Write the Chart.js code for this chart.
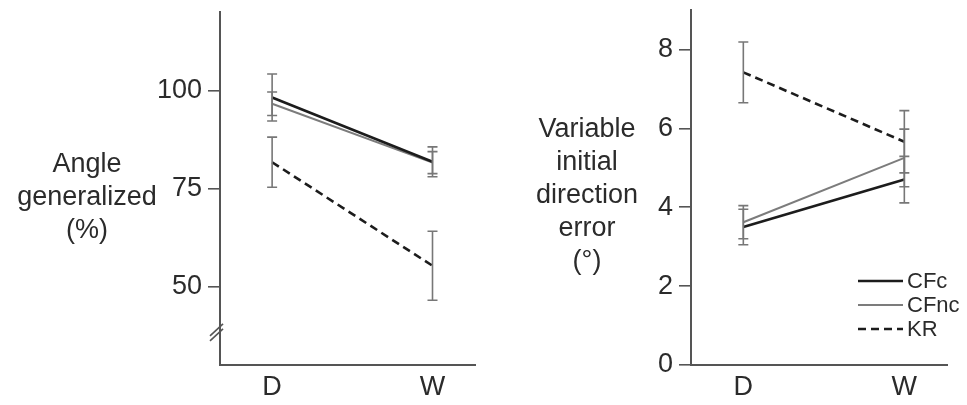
<!DOCTYPE html>
<html>
<head>
<meta charset="utf-8">
<script src="https://cdn.jsdelivr.net/npm/chart.js@4"></script>
<style>
  html, body { margin: 0; padding: 0; background: #fff; }
  #wrap { position: relative; width: 967px; height: 405px; }
  .box { position: absolute; top: 0; height: 405px; }
</style>
</head>
<body>
<div id="wrap">
  <div class="box" style="left:0;width:480px"><canvas id="chartAngle"></canvas></div>
  <div class="box" style="left:480px;width:487px"><canvas id="chartError"></canvas></div>
</div>
<script>
// categories
const conditions = ['D', 'W'];

// left panel: angle generalized (%)
const angleCFc = [98.2, 81.8];
const angleCFcErr = [6.0, 3.8];
const angleCFnc = [96.6, 81.6];
const angleCFncErr = [3.0, 2.8];
const angleKR = [81.7, 55.3];
const angleKRErr = [6.4, 8.8];
const angleTicks = [50, 75, 100];

// right panel: variable initial direction error (deg)
const dirCFc = [3.5, 4.7];
const dirCFcErr = [0.45, 0.59];
const dirCFnc = [3.62, 5.25];
const dirCFncErr = [0.42, 0.73];
const dirKR = [7.42, 5.66];
const dirKRErr = [0.77, 0.79];
const dirTicks = [0, 2, 4, 6, 8];

const FONT = "'Liberation Sans', Arial, Helvetica, sans-serif";
const TEXT = '#2b2b2b';
const AXIS = '#555';

function pts(vals) {
    return vals.map(function(v, i) { return {x: i, y: v}; });
}

function makeSets(cfc, cfcErr, cfnc, cfncErr, kr, krErr) {
    return [
        { label: 'CFc', data: pts(cfc), errors: cfcErr, borderColor: '#1c1c1c', borderWidth: 2.6, pointRadius: 0 },
        { label: 'CFnc', data: pts(cfnc), errors: cfncErr, borderColor: '#7c7c7c', borderWidth: 2, pointRadius: 0 },
        { label: 'KR', data: pts(kr), errors: krErr, borderColor: '#1c1c1c', borderWidth: 2.6, borderDash: [8, 5], pointRadius: 0 }
    ];
}

// error bars from the dataset errors, drawn through the chart scales
const errorBars = {
    id: 'errorBars',
    afterDatasetsDraw(chart) {
        const c = chart.ctx, xs = chart.scales.x, ys = chart.scales.y;
        c.save();
        c.strokeStyle = '#777';
        c.lineWidth = 1.6;
        chart.data.datasets.forEach(function(ds) {
            ds.data.forEach(function(p, i) {
                const x = xs.getPixelForValue(p.x);
                const top = ys.getPixelForValue(p.y + ds.errors[i]);
                const bot = ys.getPixelForValue(p.y - ds.errors[i]);
                c.beginPath();
                c.moveTo(x, top); c.lineTo(x, bot);
                c.moveTo(x - 5, top); c.lineTo(x + 5, top);
                c.moveTo(x - 5, bot); c.lineTo(x + 5, bot);
                c.stroke();
            });
        });
        c.restore();
    }
};

// horizontal multi-line y axis title
const sideTitle = {
    id: 'sideTitle',
    afterDraw(chart, args, opts) {
        const c = chart.ctx;
        c.save();
        c.font = '27px ' + FONT;
        c.fillStyle = TEXT;
        c.textAlign = 'center';
        c.textBaseline = 'middle';
        opts.lines.forEach(function(t, i) {
            c.fillText(t, opts.x, opts.y + i * opts.step);
        });
        c.restore();
    }
};

// axis break on the left panel
const axisBreak = {
    id: 'axisBreak',
    afterDraw(chart, args, opts) {
        if (!opts.value) return;
        const c = chart.ctx;
        const x = chart.chartArea.left;
        const y = chart.scales.y.getPixelForValue(opts.value);
        c.save();
        c.strokeStyle = AXIS;
        c.lineWidth = 1.6;
        [-2.5, 2.5].forEach(function(off) {
            c.beginPath();
            c.moveTo(x - 10, y + 6 + off);
            c.lineTo(x + 3, y - 6 + off);
            c.stroke();
        });
        c.restore();
    }
};

// legend inside the right panel
const lineLegend = {
    id: 'lineLegend',
    afterDraw(chart, args, opts) {
        if (!opts.show) return;
        const c = chart.ctx;
        c.save();
        c.font = '22px ' + FONT;
        c.textBaseline = 'middle';
        chart.data.datasets.forEach(function(ds, i) {
            const y = opts.y + i * 24;
            c.strokeStyle = ds.borderColor;
            c.lineWidth = ds.borderWidth;
            c.setLineDash(ds.borderDash || []);
            c.beginPath();
            c.moveTo(opts.x, y); c.lineTo(opts.x + 45, y);
            c.stroke();
            c.setLineDash([]);
            c.fillStyle = TEXT;
            c.fillText(ds.label, opts.x + 49, y + 1);
        });
        c.restore();
    }
};

function makeChart(id, sets, yMin, yMax, yTicks, axisWidth, padTop, padRight, plugOpts) {
    return new Chart(document.getElementById(id), {
        type: 'line',
        data: { datasets: sets },
        plugins: [errorBars, sideTitle, axisBreak, lineLegend],
        options: {
            responsive: true,
            maintainAspectRatio: false,
            animation: false,
            layout: { padding: { top: padTop, right: padRight, left: 0, bottom: 0 } },
            plugins: {
                legend: { display: false },
                tooltip: { enabled: false },
                sideTitle: plugOpts.title,
                axisBreak: plugOpts.brk || {},
                lineLegend: plugOpts.legend || {}
            },
            scales: {
                x: {
                    type: 'linear',
                    min: -0.325,
                    max: 1.265,
                    afterBuildTicks: function(s) { s.ticks = conditions.map(function(c, i) { return {value: i}; }); },
                    afterFit: function(s) { s.height = 40; s.paddingLeft = 0; s.paddingRight = 0; },
                    grid: { display: false, drawTicks: false },
                    border: { display: true, color: AXIS, width: 2 },
                    ticks: {
                        padding: 6,
                        color: TEXT,
                        font: { family: FONT, size: 27 },
                        maxRotation: 0,
                        callback: function(v) { return conditions[v]; }
                    }
                },
                y: {
                    min: yMin,
                    max: yMax,
                    afterBuildTicks: function(s) { s.ticks = yTicks.map(function(v) { return {value: v}; }); },
                    afterFit: function(s) { s.width = axisWidth; s.paddingTop = 0; s.paddingBottom = 0; },
                    grid: { drawOnChartArea: false, drawTicks: true, tickLength: 12, color: AXIS, lineWidth: 1.6 },
                    border: { display: true, color: AXIS, width: 2 },
                    ticks: {
                        padding: 6,
                        color: TEXT,
                        font: { family: FONT, size: 27 }
                    }
                }
            }
        }
    });
}

makeChart('chartAngle',
    makeSets(angleCFc, angleCFcErr, angleCFnc, angleCFncErr, angleKR, angleKRErr),
    30, 120, angleTicks, 220, 12, 5,
    {
        title: { lines: ['Angle', 'generalized', '(%)'], x: 87, y: 165, step: 33 },
        brk: { value: 38.3 }
    });

makeChart('chartError',
    makeSets(dirCFc, dirCFcErr, dirCFnc, dirCFncErr, dirKR, dirKRErr),
    0, 9, dirTicks, 211, 10, 20,
    {
        title: { lines: ['Variable', 'initial', 'direction', 'error', '(°)'], x: 107, y: 130, step: 33 },
        legend: { show: true, x: 378, y: 281 }
    });
</script>
</body>
</html>
